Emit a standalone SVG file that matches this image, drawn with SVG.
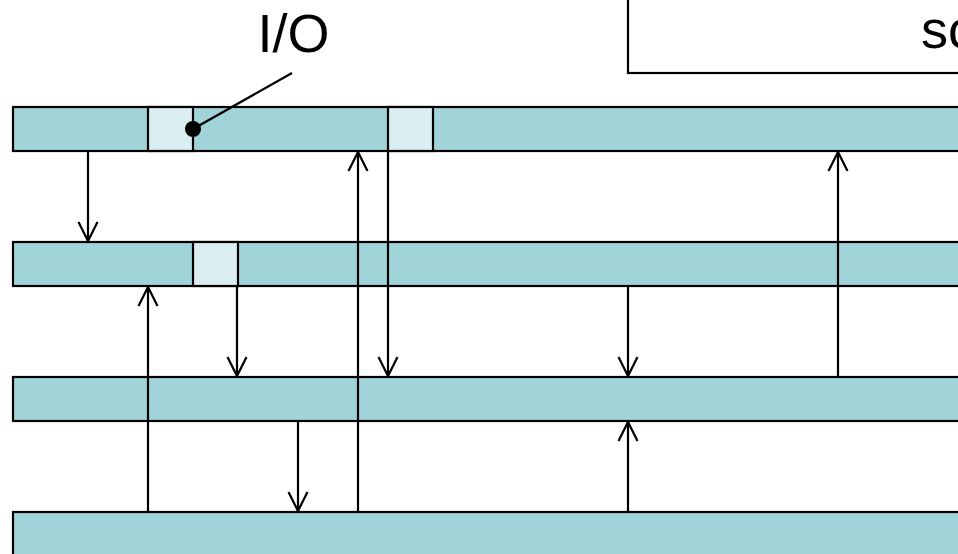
<svg xmlns="http://www.w3.org/2000/svg" width="958" height="554" viewBox="0 0 958 554">
<style>
.bar{fill:#A0D4D8;stroke:#000;stroke-width:2.2}
.cell{fill:#DAEDEF;stroke:#000;stroke-width:2.2}
.conn{stroke:#000;stroke-width:2.2;fill:none}
.lbl{font-family:"Liberation Sans",Arial,sans-serif;font-size:54px;fill:#000}
</style>
<defs>
<marker id="ah" viewBox="-22 -12 24 24" markerWidth="24" markerHeight="24" refX="0" refY="0" orient="auto" markerUnits="userSpaceOnUse">
<path d="M-19,-9.5 L0,0 L-19,9.5" fill="none" stroke="#000" stroke-width="2.2"/>
</marker>
</defs>
<rect width="958" height="554" fill="#fff"/>
<g id="box-sc">
<rect x="628" y="-20" width="360" height="93" fill="#fff" stroke="#000" stroke-width="2.2"/>
<text class="lbl" x="921" y="48">sc</text>
</g>
<g id="row1">
<rect class="bar" x="13" y="107" width="980" height="44"/>
<rect class="cell" x="148" y="107" width="45" height="44"/>
<rect class="cell" x="388" y="107" width="45" height="44"/>
</g>
<g id="row2">
<rect class="bar" x="13" y="242" width="980" height="44"/>
<rect class="cell" x="193" y="242" width="45" height="44"/>
</g>
<g id="row3">
<rect class="bar" x="13" y="377" width="980" height="44"/>
</g>
<g id="row4">
<rect class="bar" x="13" y="512" width="980" height="60"/>
</g>
<g id="label-io">
<text class="lbl" x="257.5" y="52">I/O</text>
<line class="conn" x1="193" y1="129" x2="292" y2="73"/>
<circle cx="193" cy="129" r="8" fill="#000"/>
</g>
<g id="connectors">
<line class="conn" x1="88" y1="151" x2="88" y2="241" marker-end="url(#ah)"/>
<line class="conn" x1="148" y1="512" x2="148" y2="287" marker-end="url(#ah)"/>
<line class="conn" x1="237" y1="286" x2="237" y2="376" marker-end="url(#ah)"/>
<line class="conn" x1="298" y1="421" x2="298" y2="511" marker-end="url(#ah)"/>
<line class="conn" x1="358" y1="512" x2="358" y2="152" marker-end="url(#ah)"/>
<line class="conn" x1="388" y1="151" x2="388" y2="376" marker-end="url(#ah)"/>
<line class="conn" x1="628" y1="286" x2="628" y2="376" marker-end="url(#ah)"/>
<line class="conn" x1="628" y1="512" x2="628" y2="422" marker-end="url(#ah)"/>
<line class="conn" x1="838" y1="377" x2="838" y2="152" marker-end="url(#ah)"/>
</g>
</svg>
